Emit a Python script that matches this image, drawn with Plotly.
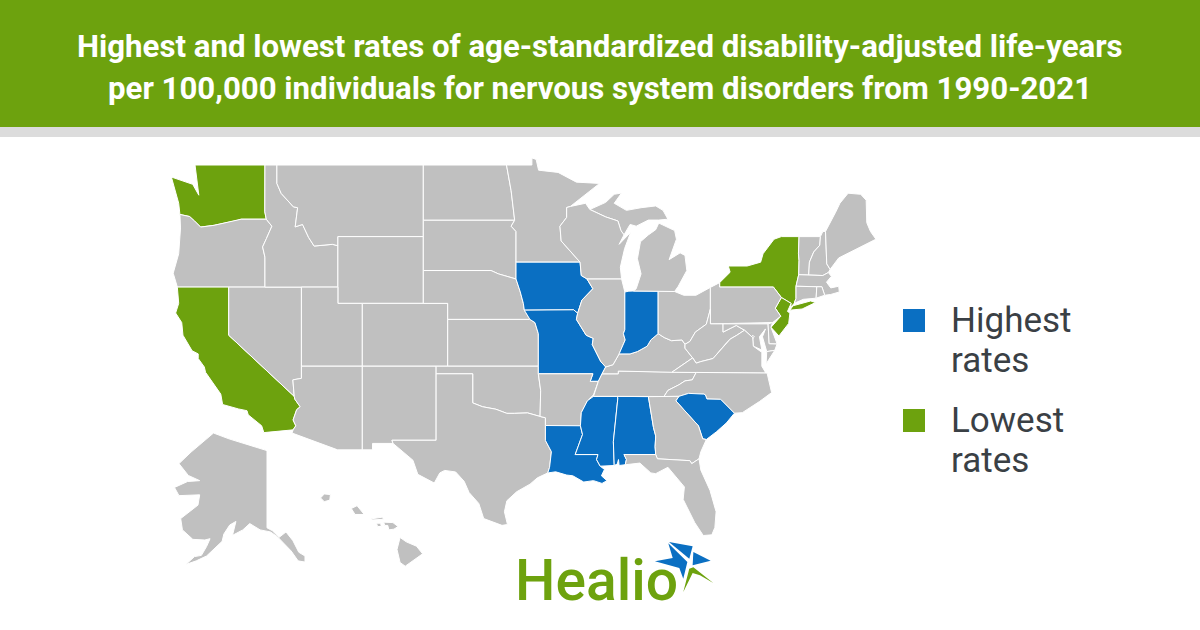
import numpy as np
import plotly.graph_objects as go

# hand-traced state outlines (lon, lat), simplified. no boundary file is available offline
outlines = {
    "WA": [[(-124.7,48.35),(-122.95,47.95),(-122.45,47.35),(-122.55,48.0),(-122.76,49),(-117.03,49),(-117.04,46.42),(-116.92,46),(-118.98,46),(-119.3,45.93),(-121.2,45.65),(-122.3,45.55),(-122.8,45.9),(-123.2,46.15),(-124,46.27),(-124.1,46.9)]],
    "OR": [[(-124,46.27),(-123.2,46.15),(-122.8,45.9),(-122.3,45.55),(-121.2,45.65),(-119.3,45.93),(-118.98,46),(-116.92,46),(-116.46,45.6),(-116.9,44.9),(-117.22,44.4),(-117.03,43.8),(-117.03,42),(-124.21,42),(-124.55,42.84),(-124.1,44),(-123.95,45.5)]],
    "CA": [[(-124.21,42),(-120,42),(-120,39),(-114.63,35),(-114.57,34.8),(-114.14,34.3),(-114.43,34.1),(-114.72,33.4),(-114.5,33),(-114.72,32.72),(-117.12,32.53),(-117.3,33),(-118.4,33.75),(-118.5,34.03),(-119.2,34.15),(-120.5,34.45),(-120.65,35.15),(-121.9,36.6),(-122,36.95),(-122.5,37.5),(-122.5,37.8),(-123,38),(-123.75,39),(-123.85,39.8),(-124.35,40.4),(-124.1,41)]],
    "NV": [[(-120,42),(-114.04,42),(-114.04,36.2),(-114.74,36.1),(-114.63,35),(-120,39)]],
    "ID": [[(-117.03,49),(-116.05,49),(-116.05,48),(-115.7,47.45),(-114.7,46.7),(-114.35,46.65),(-114.55,45.56),(-113.95,45.7),(-113.45,44.95),(-113,44.45),(-111.5,44.55),(-111.05,44.47),(-111.05,42),(-117.03,42),(-117.03,43.8),(-117.22,44.4),(-116.9,44.9),(-116.46,45.6),(-116.92,46),(-117.04,46.42)]],
    "MT": [[(-116.05,49),(-104.05,49),(-104.05,45),(-111.05,45),(-111.05,44.47),(-111.5,44.55),(-113,44.45),(-113.45,44.95),(-113.95,45.7),(-114.55,45.56),(-114.35,46.65),(-114.7,46.7),(-115.7,47.45),(-116.05,48)]],
    "WY": [[(-111.05,45),(-104.05,45),(-104.05,41),(-111.05,41)]],
    "UT": [[(-114.04,42),(-111.05,42),(-111.05,41),(-109.05,41),(-109.05,37),(-114.04,37)]],
    "CO": [[(-109.05,41),(-102.05,41),(-102.05,37),(-109.05,37)]],
    "AZ": [[(-114.04,37),(-109.05,37),(-109.05,31.33),(-111.07,31.33),(-114.81,32.5),(-114.72,32.72),(-114.5,33),(-114.72,33.4),(-114.43,34.1),(-114.14,34.3),(-114.57,34.8),(-114.63,35),(-114.74,36.1),(-114.04,36.2)]],
    "NM": [[(-109.05,37),(-103,37),(-103,32),(-106.62,32),(-106.53,31.78),(-108.21,31.78),(-108.21,31.33),(-109.05,31.33)]],
    "ND": [[(-104.05,49),(-97.23,49),(-96.85,47.6),(-96.56,45.94),(-104.05,45.94)]],
    "SD": [[(-104.05,45.94),(-96.56,45.94),(-96.85,45.6),(-96.45,45.3),(-96.45,43.5),(-96.45,42.49),(-97.9,42.8),(-98.5,43),(-104.05,43)]],
    "NE": [[(-104.05,43),(-98.5,43),(-97.9,42.8),(-96.45,42.49),(-96.1,41.7),(-95.85,41),(-95.77,40.58),(-95.31,40),(-102.05,40),(-102.05,41),(-104.05,41)]],
    "KS": [[(-102.05,40),(-95.31,40),(-94.9,39.8),(-94.62,39.1),(-94.62,37),(-102.05,37)]],
    "OK": [[(-103,37),(-94.62,37),(-94.62,36.5),(-94.43,35.4),(-94.48,33.64),(-95.5,33.88),(-96.6,33.85),(-97.2,33.85),(-98.1,34.13),(-99.2,34.3),(-100,34.56),(-100,36.5),(-103,36.5)]],
    "TX": [[(-106.62,32),(-103,32),(-103,36.5),(-100,36.5),(-100,34.56),(-99.2,34.3),(-98.1,34.13),(-97.2,33.85),(-96.6,33.85),(-95.5,33.88),(-94.48,33.64),(-94.04,33.55),(-94.04,31.99),(-93.55,31.2),(-93.7,30.1),(-93.85,29.7),(-94.7,29.35),(-95.3,28.9),(-96.4,28.35),(-97.2,27.7),(-97.4,26.9),(-97.15,25.96),(-97.6,25.9),(-99.1,26.4),(-99.5,27.5),(-100.3,28.3),(-100.7,29.1),(-101.4,29.77),(-102.3,29.88),(-102.7,29.7),(-103.15,28.98),(-104.5,29.6),(-104.9,30.6),(-106.53,31.78)]],
    "MN": [[(-97.23,49),(-95.15,49),(-95.15,49.38),(-94.8,49.3),(-94.6,48.72),(-93,48.6),(-91.5,48.07),(-89.6,48),(-92,46.72),(-92.3,46.66),(-92.3,46.1),(-92.85,45.6),(-92.75,44.75),(-91.2,43.5),(-96.45,43.5),(-96.45,45.3),(-96.85,45.6),(-96.56,45.94),(-96.85,47.6)]],
    "IA": [[(-96.45,43.5),(-91.2,43.5),(-91.1,42.7),(-90.64,42.5),(-90.15,41.9),(-91.05,41.2),(-91.4,40.38),(-91.72,40.6),(-95.77,40.58),(-95.85,41),(-96.1,41.7),(-96.45,42.49)]],
    "MO": [[(-95.77,40.58),(-91.72,40.6),(-91.4,40.38),(-91.5,40),(-90.7,39),(-90.12,38.8),(-90.2,38.4),(-89.5,37.3),(-89.1,36.95),(-89.4,36.5),(-89.7,36),(-90.37,36),(-90.15,36.5),(-94.62,36.5),(-94.62,39.1),(-94.9,39.8),(-95.31,40)]],
    "AR": [[(-94.62,36.5),(-90.15,36.5),(-90.37,36),(-89.7,36),(-90.1,35.1),(-90.6,34.7),(-91.1,33.9),(-91.17,33),(-94.04,33.02),(-94.04,33.55),(-94.48,33.64),(-94.43,35.4)]],
    "LA": [[(-94.04,33.02),(-91.17,33),(-91,32.4),(-91.6,31),(-89.73,31),(-89.85,30.65),(-89.55,30.18),(-89.2,29.95),(-89.45,29.5),(-89,29.15),(-89.4,28.95),(-90.1,29.15),(-90.9,29.05),(-91.8,29.5),(-92.3,29.55),(-93.2,29.78),(-93.85,29.7),(-93.7,30.1),(-93.55,31.2),(-94.04,31.99)]],
    "MS": [[(-90.1,35),(-88.2,35),(-88.1,34.9),(-88.47,31.9),(-88.4,30.23),(-89.55,30.18),(-89.85,30.65),(-89.73,31),(-91.6,31),(-91,32.4),(-91.17,33),(-91.1,33.9),(-90.6,34.7)]],
    "AL": [[(-88.2,35),(-85.6,34.98),(-85.18,32.87),(-85,32.3),(-85.05,31.55),(-85,31),(-87.6,31),(-87.4,30.65),(-87.5,30.28),(-88,30.23),(-88.05,30.65),(-88.15,30.33),(-88.4,30.23),(-88.47,31.9),(-88.1,34.9)]],
    "TN": [[(-89.4,36.5),(-88.07,36.5),(-88.07,36.68),(-83.68,36.6),(-81.68,36.59),(-82,36.1),(-82.6,36.03),(-83.1,35.77),(-84,35.4),(-84.32,34.99),(-85.6,34.98),(-88.2,35),(-90.1,35),(-89.7,36)]],
    "KY": [[(-89.4,36.5),(-89.1,36.95),(-88.5,37.1),(-88,37.8),(-87.1,37.8),(-86.5,37.95),(-85.7,38.3),(-85.4,38.7),(-84.8,39.1),(-84.3,38.85),(-83.7,38.65),(-82.85,38.7),(-82.6,38.42),(-82.6,38.17),(-81.97,37.54),(-83.68,36.6),(-88.07,36.68),(-88.07,36.5)]],
    "IL": [[(-90.64,42.5),(-87.8,42.5),(-87.53,41.7),(-87.53,39.35),(-87.65,39.1),(-87.5,38.7),(-88,37.8),(-88.5,37.1),(-89.1,36.95),(-89.5,37.3),(-90.2,38.4),(-90.12,38.8),(-90.7,39),(-91.5,40),(-91.4,40.38),(-91.05,41.2),(-90.15,41.9)]],
    "IN": [[(-87.53,41.7),(-87.2,41.75),(-86.82,41.76),(-84.8,41.76),(-84.8,39.1),(-85.4,38.7),(-85.7,38.3),(-86.5,37.95),(-87.1,37.8),(-88,37.8),(-87.5,38.7),(-87.65,39.1),(-87.53,39.35)]],
    "OH": [[(-84.8,41.76),(-83.45,41.73),(-82.7,41.5),(-81.7,41.5),(-80.52,41.98),(-80.52,40.64),(-80.85,39.7),(-81.75,39.2),(-82.2,38.6),(-82.6,38.42),(-82.85,38.7),(-83.7,38.65),(-84.3,38.85),(-84.8,39.1)]],
    "MI": [[(-86.82,41.76),(-84.8,41.76),(-83.45,41.73),(-83.15,42.05),(-82.45,43),(-82.6,43.9),(-83,44.05),(-83.9,43.65),(-83.3,44.85),(-83.45,45.35),(-84.75,45.78),(-85,45.4),(-85.6,45.1),(-86.25,44.7),(-86.5,43.7),(-86.2,42.8),(-86.6,41.9)],
           [(-90.4,46.55),(-89.1,46.95),(-88.4,47.4),(-87.8,47.47),(-88.4,46.9),(-87.4,46.5),(-86.2,46.65),(-85,46.75),(-84.4,46.5),(-84,46),(-84.75,45.95),(-85.6,45.95),(-86.6,45.6),(-87.1,45.7),(-87.6,45.1),(-87.85,45.35),(-88.1,45.9),(-89.1,46.13)]],
    "WI": [[(-92.3,46.66),(-92,46.72),(-90.75,46.9),(-90.4,46.55),(-89.1,46.13),(-88.1,45.9),(-87.85,45.35),(-87.6,45.1),(-88,44.55),(-87.05,45.25),(-87.55,44.3),(-87.9,43.2),(-87.8,42.5),(-90.64,42.5),(-91.1,42.7),(-91.2,43.5),(-92.75,44.75),(-92.85,45.6),(-92.3,46.1)]],
    "NY": [[(-79.76,42.27),(-78.9,42.9),(-79.05,43.27),(-77.5,43.27),(-76.4,43.5),(-76.2,44),(-75.3,44.85),(-74.7,45),(-73.25,45),(-73.3,44),(-73.25,43.6),(-73.28,42.75),(-73.5,42.05),(-73.5,41.3),(-73.65,41),(-73.95,40.75),(-73.9,41),(-74.7,41.36),(-75.35,42),(-79.76,42)],
           [(-73.75,40.85),(-72.3,41.15),(-71.9,41.05),(-73,40.65),(-74,40.58)]],
    "NJ": [[(-74.7,41.36),(-73.9,41),(-74.2,40.5),(-74,40.4),(-74.1,39.75),(-74.9,38.95),(-75.55,39.5),(-74.75,40.2),(-75.2,40.7)]],
    "PA": [[(-80.52,41.98),(-79.76,42.27),(-79.76,42),(-75.35,42),(-74.7,41.36),(-75.2,40.7),(-74.75,40.2),(-75.42,39.8),(-80.52,39.72)]],
    "WV": [[(-80.52,40.64),(-80.52,39.72),(-79.48,39.72),(-79.48,39.2),(-78.4,39.62),(-77.72,39.32),(-78.35,39),(-78.9,38.75),(-79.3,38.42),(-80.3,37.5),(-81.3,37.3),(-81.68,37.2),(-81.97,37.54),(-82.6,38.17),(-82.6,38.42),(-82.2,38.6),(-81.75,39.2),(-80.85,39.7)]],
    "MD": [[(-79.48,39.72),(-75.79,39.72),(-75.7,38.46),(-75.05,38.45),(-75.24,38.03),(-75.9,37.95),(-76.25,38.9),(-76,39.4),(-76.5,38.9),(-76.3,38.05),(-77,38.3),(-77.05,38.85),(-77.72,39.32),(-78.4,39.62),(-79.48,39.2)]],
    "DE": [[(-75.79,39.72),(-75.42,39.8),(-75.55,39.5),(-75.05,38.45),(-75.7,38.46)]],
    "DC": [[(-77.12,38.93),(-77.04,39),(-76.91,38.89),(-77.04,38.79)]],
    "VA": [[(-83.68,36.6),(-81.97,37.54),(-81.68,37.2),(-81.3,37.3),(-80.3,37.5),(-79.3,38.42),(-78.9,38.75),(-78.35,39),(-77.72,39.32),(-77.05,38.85),(-77,38.3),(-76.3,37.9),(-76.3,37),(-75.97,36.55),(-81.68,36.59)],
           [(-75.9,37.95),(-75.24,38.03),(-75.95,37.15)]],
    "NC": [[(-84.32,34.99),(-84,35.4),(-83.1,35.77),(-82.6,36.03),(-82,36.1),(-81.68,36.59),(-75.87,36.55),(-75.5,35.25),(-76.5,34.65),(-77.9,33.9),(-78.55,33.86),(-79.68,34.8),(-80.8,34.82),(-80.93,35.1),(-81.05,35.15),(-82.3,35.2),(-83.1,35)]],
    "SC": [[(-83.1,35),(-82.3,35.2),(-81.05,35.15),(-80.93,35.1),(-80.8,34.82),(-79.68,34.8),(-78.55,33.86),(-79.2,33.2),(-80,32.6),(-80.85,32.05),(-81.15,32.1),(-81.5,33),(-82.6,34),(-83.35,34.7)]],
    "GA": [[(-85.6,34.98),(-84.32,34.99),(-83.1,35),(-83.35,34.7),(-82.6,34),(-81.5,33),(-81.15,32.1),(-80.85,32.05),(-81.3,31.2),(-81.45,30.7),(-82.05,30.36),(-82.2,30.57),(-84.86,30.7),(-85,31),(-85.05,31.55),(-85,32.3),(-85.18,32.87)]],
    "FL": [[(-87.6,31),(-85,31),(-84.86,30.7),(-82.2,30.57),(-82.05,30.36),(-81.45,30.7),(-81.3,29.9),(-80.55,28.45),(-80.05,26.9),(-80.15,25.75),(-80.4,25.2),(-81.1,25.15),(-81.8,26.1),(-82.25,26.9),(-82.75,27.8),(-82.65,28.7),(-83.4,29.5),(-84,30.1),(-85,29.65),(-85.4,29.7),(-86.3,30.4),(-87.5,30.28),(-87.4,30.65)]],
    "VT": [[(-73.25,45),(-71.5,45),(-71.55,44.5),(-72.05,44.1),(-72.4,43.5),(-72.46,42.73),(-73.28,42.75),(-73.25,43.6),(-73.3,44)]],
    "NH": [[(-71.5,45),(-71.3,45.3),(-71.08,45.3),(-70.98,43.4),(-70.7,43.07),(-70.85,42.88),(-71.3,42.7),(-72.46,42.73),(-72.4,43.5),(-72.05,44.1),(-71.55,44.5)]],
    "ME": [[(-71.08,45.3),(-70.6,45.9),(-70.25,46.4),(-69.9,46.9),(-69.23,47.46),(-68.2,47.4),(-67.75,47.07),(-67.7,45.8),(-67.4,45.3),(-66.95,44.85),(-68.5,44.3),(-70,43.75),(-70.7,43.07),(-70.98,43.4)]],
    "MA": [[(-73.28,42.75),(-71.3,42.7),(-70.85,42.88),(-70.6,42.65),(-71,42.3),(-70.65,41.95),(-70,42.05),(-69.95,41.7),(-70.65,41.55),(-71.15,41.5),(-71.38,42.02),(-71.8,42.02),(-73.5,42.05)]],
    "CT": [[(-73.5,42.05),(-71.8,42.02),(-71.85,41.32),(-72.9,41.25),(-73.65,41),(-73.5,41.3)]],
    "RI": [[(-71.8,42.02),(-71.38,42.02),(-71.15,41.5),(-71.85,41.32)]],
}
alaska = [[(-141,69.65),(-141,60.3),(-139.5,59.9),(-137.5,58.9),(-135.5,59.7),(-133.5,58.4),(-131.8,56.6),(-130,56),(-130,55),(-132,55.2),(-134,56.8),(-136,58),(-138,59),(-140,59.7),(-143,60),(-146,60.9),(-148,60),(-151,59.2),(-150,61.2),(-151.8,60.7),(-153.5,59.4),(-154,58.3),(-156.5,57),(-158.5,56),(-161.5,55.2),(-164.5,54.6),(-162,55.9),(-160,56.1),(-158.5,57.5),(-157.5,58.7),(-159,58.5),(-162.5,58.6),(-165.5,60),(-166,61.6),(-161,63.4),(-160.5,64.7),(-166.5,64.6),(-167.8,65.6),(-164,66.3),(-160.5,66.4),(-163.8,67),(-166.5,68.3),(-163,69.5),(-156.5,71.35),(-152,70.8),(-146,70.15)]]
hawaii = [
    [(-159.78,22.05),(-159.6,22.23),(-159.3,22.2),(-159.33,21.95),(-159.6,21.88)],
    [(-158.28,21.57),(-158,21.7),(-157.65,21.3),(-158.1,21.3)],
    [(-157.3,21.1),(-156.75,21.18),(-156.72,21.08),(-157.25,21.05)],
    [(-157.05,20.9),(-156.85,20.9),(-156.82,20.75),(-157,20.75)],
    [(-156.7,20.95),(-156.25,20.93),(-156,20.75),(-156.2,20.63),(-156.45,20.6),(-156.5,20.8),(-156.65,20.8)],
    [(-155.9,20.25),(-155.6,20.05),(-155.1,19.85),(-154.8,19.5),(-155.65,18.93),(-155.9,19.1),(-156.05,19.7)],
]

highest = ["IA", "MO", "IN", "LA", "MS", "AL", "SC"]
lowest = ["WA", "CA", "NY", "NJ"]
title_lines = ["Highest and lowest rates of age-standardized disability-adjusted life-years",
               "per 100,000 individuals for nervous system disorders from 1990-2021"]

GREEN = "#6da20e"
BLUE = "#0a6fc2"
GREY = "#c0c0c0"
DARK = "#3a4045"


def merc(lat):
    return float(np.degrees(np.log(np.tan(np.radians(45 + lat / 2)))))


def ring_xy(ring, s=1.0, lon_from=0.0, lon_to=0.0, lat_from=None, merc_to=0.0):
    # mercator x/y, insets get shrunk and moved below the mainland
    xs, ys = [], []
    for lon, lat in list(ring) + [ring[0]]:
        if lat_from is None:
            xs.append(lon)
            ys.append(merc(lat))
        else:
            xs.append(lon_to + s * (lon - lon_from))
            ys.append(merc_to + s * (merc(lat) - merc(lat_from)))
    return xs + [None], ys + [None]


placement = {
    "AK": dict(s=0.283, lon_from=-141, lon_to=-116.86, lat_from=60.3, merc_to=26.63),
    "HI": dict(s=1.68, lon_from=-159.5, lon_to=-112.0, lat_from=22.05, merc_to=29.08),
}
outlines["AK"] = alaska
outlines["HI"] = hawaii

fig = go.Figure()
for state, rings in outlines.items():
    xs, ys = [], []
    for ring in rings:
        x, y = ring_xy(ring, **placement.get(state, {}))
        xs += x
        ys += y
    color = BLUE if state in highest else GREEN if state in lowest else GREY
    fig.add_trace(go.Scatter(x=xs, y=ys, name=state, mode="lines", fill="toself", fillcolor=color,
                             line=dict(color="white", width=1), hoverinfo="skip", showlegend=False))

# 12.2 px per degree, mainland placed so WA starts at x=171 and the 49th parallel at y=165
scale = 12.2
lon0 = -124.73 - 171 / scale
m_top = merc(49) + 165 / scale
fig.update_xaxes(range=[lon0, lon0 + 1200 / scale], visible=False, domain=[0, 1])
fig.update_yaxes(range=[m_top - 630 / scale, m_top], visible=False, domain=[0, 1])


def px(x, y):
    return x / 1200, 1 - y / 630


def poly(points, color):
    path = "M" + " L".join("%.4f,%.4f" % px(x, y) for x, y in points) + " Z"
    return dict(type="path", path=path, xref="paper", yref="paper", fillcolor=color, line_width=0, layer="above")


def rect(x0, y0, x1, y1, color):
    return dict(type="rect", xref="paper", yref="paper", x0=x0 / 1200, x1=x1 / 1200, y0=1 - y1 / 630, y1=1 - y0 / 630,
                fillcolor=color, line_width=0, layer="above")


def label(text, x, y, size, color, family, anchor="left", weight=400):
    return dict(text=text, x=x / 1200, y=1 - y / 630, xref="paper", yref="paper", xanchor=anchor, yanchor="middle",
                showarrow=False, font=dict(size=size, color=color, family=family, weight=weight))


# logo star traced on a 3x crop starting at (650, 538)
star = lambda pts: [(650 + a / 3, 538 + b / 3) for a, b in pts]
fig.update_layout(
    width=1200, height=630, margin=dict(l=0, r=0, t=0, b=0), paper_bgcolor="white", plot_bgcolor="white",
    shapes=[
        rect(0, 0, 1200, 127, GREEN),
        rect(0, 127, 1200, 137, "#dcdcdc"),
        rect(903, 309, 925, 332, BLUE),
        rect(903, 409, 925, 432, GREEN),
        poly(star([(57, 12), (128, 25), (118, 62)]), BLUE),
        poly(star([(55, 16), (112, 72), (100, 122), (88, 90), (15, 70), (68, 60)]), BLUE),
        poly(star([(130, 42), (182, 68), (128, 82)]), BLUE),
        poly(star([(100, 162), (118, 92), (130, 88), (190, 135), (150, 112), (128, 105)]), GREEN),
    ],
    annotations=[
        label(title_lines[0], 600, 47, 31.2, "white", "Roboto", "center", 700),
        label(title_lines[1], 600, 89, 31.2, "white", "Roboto", "center", 700),
        label("Highest", 949, 320, 35, DARK, "Roboto"),
        label("rates", 949, 360, 35, DARK, "Roboto"),
        label("Lowest", 949, 420, 35, DARK, "Roboto"),
        label("rates", 949, 460, 35, DARK, "Roboto"),
        label("Healio", 513, 580, 57, GREEN, "Roboto", weight=500),
    ],
)
fig.write_html("out.html", config=dict(displayModeBar=False), post_script="document.body.style.margin = 0;")
